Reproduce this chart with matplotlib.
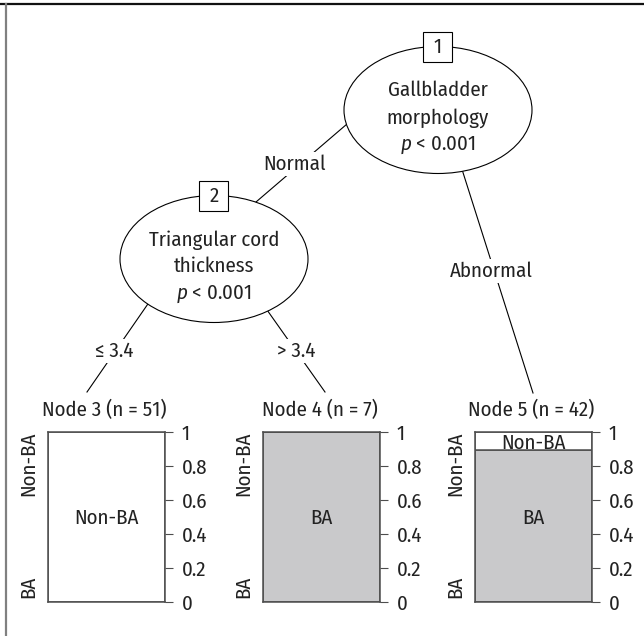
import matplotlib
matplotlib.use('Agg')
import matplotlib.pyplot as plt
from matplotlib.patches import Ellipse, Rectangle

FONT = ['Fira Sans Condensed', 'Roboto Condensed', 'DejaVu Sans']
plt.rcParams['font.family'] = FONT
plt.rcParams['mathtext.fontset'] = 'custom'
plt.rcParams['mathtext.rm'] = 'Fira Sans Condensed'
plt.rcParams['mathtext.it'] = 'Fira Sans Condensed:italic'

# ---------------- data ----------------
inner_ids = [1, 2]
inner_vars = [['Gallbladder', 'morphology'], ['Triangular cord', 'thickness']]
inner_p = ['< 0.001', '< 0.001']
edge_labels = ['Normal', 'Abnormal', '\u2264 3.4', '> 3.4']
term_ids = [3, 4, 5]
term_n = [51, 7, 42]
term_ba = [0.0, 1.0, 0.893]          # proportion of BA in each terminal node
class_names = ['BA', 'Non-BA']
yticks = [0, 0.2, 0.4, 0.6, 0.8, 1]
ytick_labels = ['0', '0.2', '0.4', '0.6', '0.8', '1']

# ---------------- layout (pixels) ----------------
W, H = 644, 636
FS = 15
GRAY = '#c9c9cb'
EDGE = '#4d4d4d'
TXT = '#222222'

fig = plt.figure(figsize=(W / 100, H / 100), dpi=100)
ax = fig.add_axes([0, 0, 1, 1])
ax.set_xlim(0, W)
ax.set_ylim(H, 0)
ax.axis('off')

# outer frame (top and left)
ax.plot([0, W], [4, 4], color='#111111', lw=1.6, zorder=1)
ax.plot([6.5, 6.5], [4, H], color='#808080', lw=1.6, zorder=1)

inner_xy = [(438, 110), (214, 259)]
ell_w, ell_h = 188, 127

# edges: (start, end, label position)
edges = [((438, 46), (214, 238), (295, 170)),
         ((426, 56), (533, 393), (491, 277)),
         ((179, 259), (87, 392), (114.5, 357)),
         ((231, 259), (325, 392), (296, 357))]
for (p0, p1, lp), lab in zip(edges, edge_labels):
    ax.plot([p0[0], p1[0]], [p0[1], p1[1]], color='black', lw=0.8, zorder=1)
    ax.text(lp[0], lp[1], lab, ha='center', va='baseline', fontsize=FS,
            color=TXT, zorder=3,
            bbox=dict(facecolor='white', edgecolor='none', pad=1.5))

for (cx, cy), nid, lines, p in zip(inner_xy, inner_ids, inner_vars, inner_p):
    ax.add_patch(Ellipse((cx, cy), ell_w, ell_h, facecolor='white',
                         edgecolor='black', lw=0.8, zorder=2))
    for k, s in enumerate(lines + [r'$p$ ' + p]):
        ax.text(cx, cy - 13.5 + 26.8 * k, s, ha='center', va='baseline',
                fontsize=FS, color=TXT, zorder=4)
    bw, bh = 29, 30
    top_y = cy - ell_h / 2
    ax.add_patch(Rectangle((cx - bw / 2, top_y - bh / 2), bw, bh,
                           facecolor='white', edgecolor='black', lw=0.8, zorder=5))
    ax.text(cx, top_y + 1, str(nid), ha='center', va='center', fontsize=FS,
            color=TXT, zorder=6)

# terminal panels
bar_left = [48, 263, 475]
bar_w, bar_top, bar_h = 117, 432, 170
for left, nid, n, ba in zip(bar_left, term_ids, term_n, term_ba):
    ax.text(left + bar_w / 2 - 2, 416, f'Node {nid} (n = {n})', ha='center',
            va='baseline', fontsize=FS, color=TXT)
    pax = fig.add_axes([left / W, (H - bar_top - bar_h) / H, bar_w / W, bar_h / H])
    pax.bar(0.5, ba, width=1, color=GRAY, edgecolor=EDGE, lw=1.1)
    pax.bar(0.5, 1 - ba, bottom=ba, width=1, color='white', edgecolor=EDGE, lw=1.1)
    pax.set_xlim(0, 1)
    pax.set_ylim(0, 1)
    pax.set_xticks([])
    pax.yaxis.tick_right()
    pax.set_yticks(yticks, ytick_labels)
    pax.tick_params(axis='y', direction='out', length=5.5, width=0.8,
                    color=EDGE, pad=6.5, labelsize=FS, labelcolor=TXT)
    for sp in pax.spines.values():
        sp.set_color(EDGE)
        sp.set_linewidth(1.1)
    # class labels inside the bar
    if ba >= 0.5:
        pax.text(0.5, 0.5 - 0.01, class_names[0], ha='center', va='center',
                 fontsize=FS, color=TXT)
        if ba < 1:
            pax.text(0.5, (ba + 1) / 2 - 0.015, class_names[1], ha='center',
                     va='center', fontsize=FS, color=TXT)
    else:
        pax.text(0.5, 0.5 - 0.01, class_names[1], ha='center', va='center',
                 fontsize=FS, color=TXT)
        if ba > 0:
            pax.text(0.5, ba / 2, class_names[0], ha='center', va='center',
                     fontsize=FS, color=TXT)
    # rotated class names on the left
    pax.annotate(class_names[1], xy=(0, 1), xycoords='axes fraction',
                 xytext=(-14, 0), textcoords='offset points', rotation=90,
                 ha='center', va='top', fontsize=FS, color=TXT)
    pax.annotate(class_names[0], xy=(0, 0), xycoords='axes fraction',
                 xytext=(-14, 3), textcoords='offset points', rotation=90,
                 ha='center', va='bottom', fontsize=FS, color=TXT)

fig.savefig('out.png', dpi=100)
